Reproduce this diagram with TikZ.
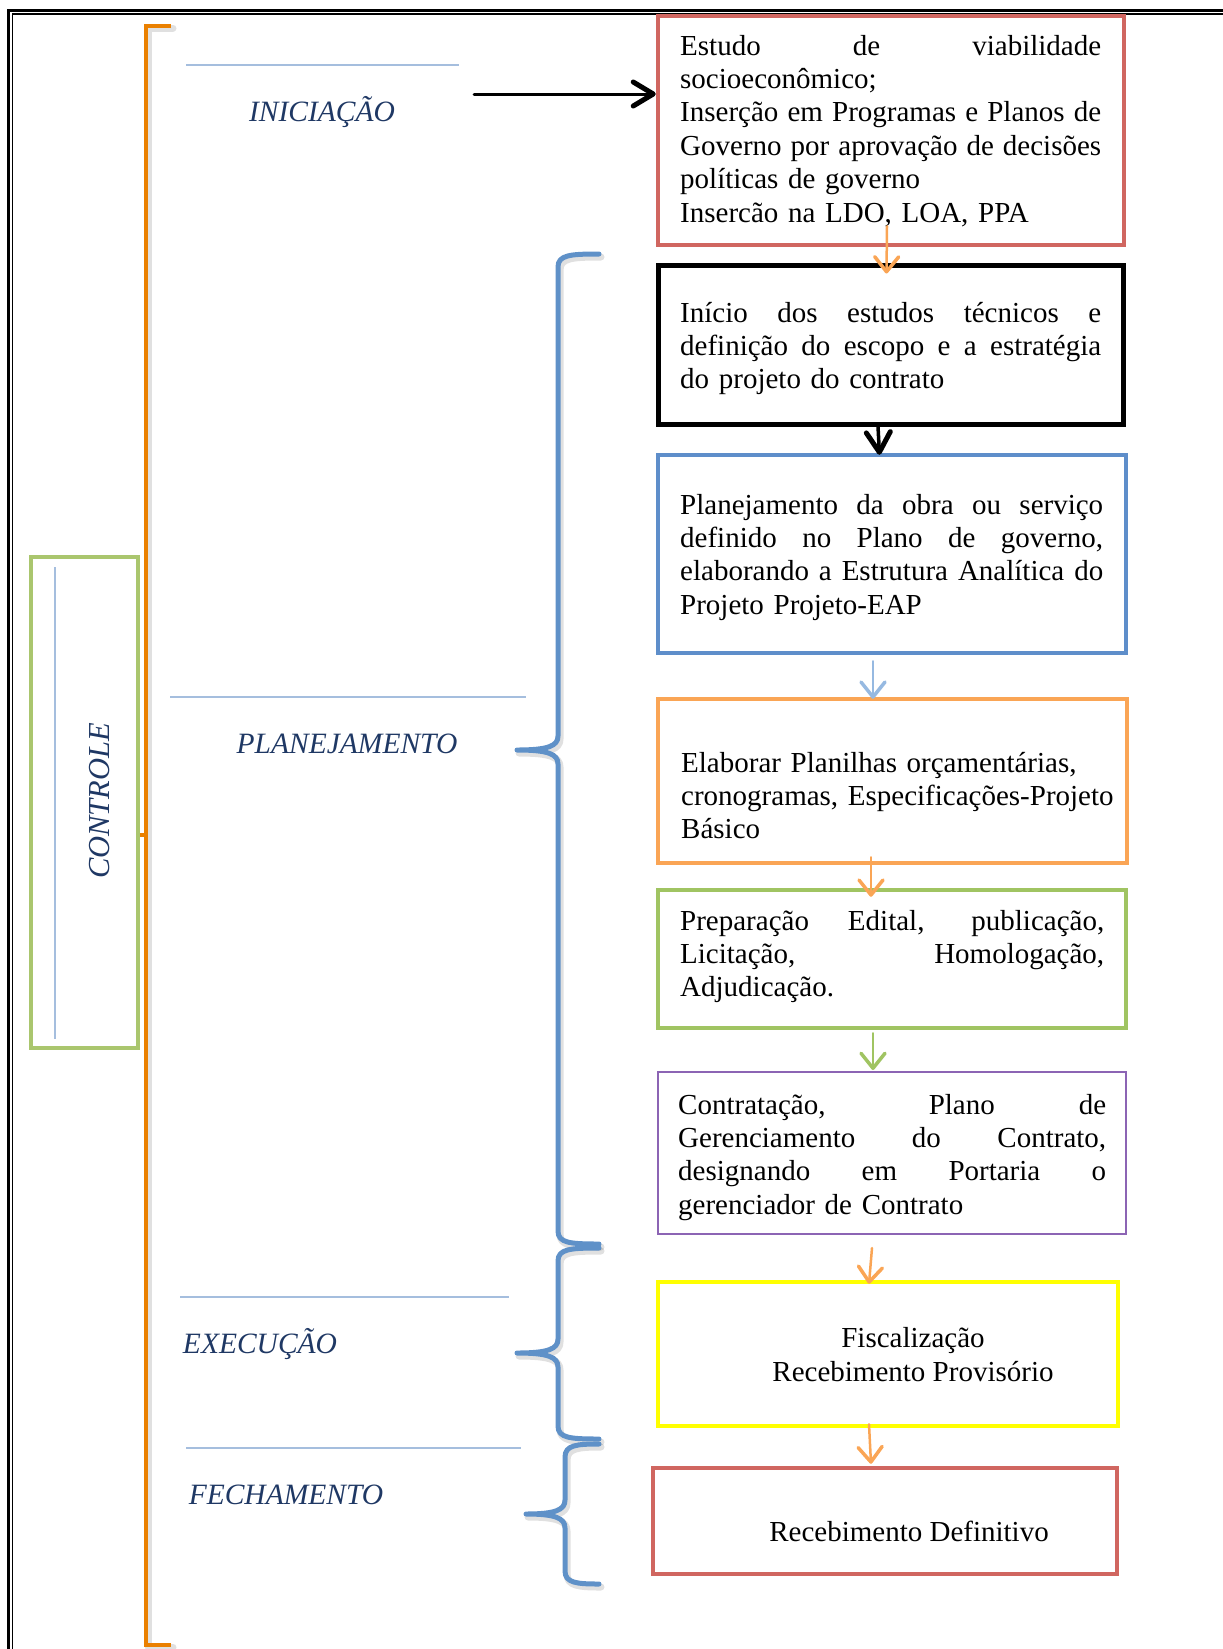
\documentclass[tikz,border=0pt]{standalone}
\usepackage{fontspec}
\setmainfont{Liberation Serif}
\usetikzlibrary{arrows.meta}

\definecolor{boxred}{RGB}{208,102,96}
\definecolor{boxblue}{RGB}{94,142,202}
\definecolor{boxorange}{RGB}{250,165,85}
\definecolor{boxgreen}{RGB}{160,196,98}
\definecolor{boxpurple}{RGB}{140,100,180}
\definecolor{boxyellow}{RGB}{255,255,0}
\definecolor{arrowblue}{RGB}{150,185,225}
\definecolor{rulecol}{RGB}{165,190,222}
\definecolor{labelcol}{RGB}{31,56,100}
\definecolor{bracketcol}{RGB}{234,128,0}
\definecolor{bracecol}{RGB}{95,145,200}
\definecolor{ctrlgreen}{RGB}{170,198,110}

% a justified line spanning the full text width (stretchable word spaces)
\newcommand{\J}[1]{\makebox[\hsize][s]{\spaceskip=0.25em plus 20em\xspaceskip=0.25em plus 20em\relax #1}}

% left brace: spine x, top y, middle y, bottom y, hook x, point x
\newcommand{\bracepath}[6]{%
  (#5,#2) .. controls (#1+12,#2) and (#1,#2+1) .. (#1,#2+13)
  -- (#1,#3-14) .. controls (#1,#3-4) and (#1-10,#3) .. (#6,#3)
  .. controls (#1-10,#3) and (#1,#3+4) .. (#1,#3+14)
  -- (#1,#4-13) .. controls (#1,#4-1) and (#1+12,#4) .. (#5,#4)}

\begin{document}
\begin{tikzpicture}[x=1pt,y=-1pt,
  box/.style={draw, line width=4.5pt, minimum width=#1, inner sep=0pt},
  txt/.style={inner sep=0pt, text width=#1, align=left,
    font=\fontsize{29}{33.4}\selectfont},
  ctxt/.style={inner sep=0pt, align=center,
    font=\fontsize{29}{33.4}\selectfont},
  lbl/.style={inner sep=0pt, text=labelcol,
    font=\fontsize{29.5}{34}\selectfont\itshape},
  rulestyle/.style={draw=rulecol, line width=2.5pt},
  flow/.style={line width=2.5pt, line cap=round,
    -{Straight Barb[length=15pt,width=24pt,line width=3.5pt,round]}},
  bigflow/.style={line width=3pt, line cap=round,
    -{Straight Barb[length=20pt,width=24pt,line width=5pt,round]}},
  bracestyle/.style={draw=bracecol, line width=5pt, line cap=round, line join=round},
  shade/.style={draw=black, opacity=0.12, line width=7pt, line cap=round, line join=round}
]
\useasboundingbox (0,0) rectangle (1223,1649);
\clip (0,0) rectangle (1223,1649);

% double page frame
\draw[line width=2.6pt] (8.7,1700) |- (1300,10.5);
\draw[line width=1.7pt] (12.5,1700) |- (1300,14.2);

% control bracket
\draw[shade] ([shift={(2,2)}]171,26) -- ([shift={(2,2)}]146,26) -- ([shift={(2,2)}]146,1645) -- ([shift={(2,2)}]171,1645);
\draw[draw=bracketcol, line width=4.5pt] (171,26) -- (146,26) -- (146,1645) -- (171,1645);
\coordinate (bk) at (146,835);

% control box
\node[draw=ctrlgreen, line width=4pt, minimum width=107pt, minimum height=491pt, inner sep=0pt] (ctrl) at (84.5,802.5) {};
\draw[draw=rulecol, line width=2pt] (55,567) -- (55,1039);
\node[lbl, rotate=90, font=\fontsize{30.5}{35}\selectfont\itshape] (ctrltxt) at (100,801) {CONTROLE};
\draw[draw=bracketcol, line width=4.5pt] ([yshift=-32.5pt]ctrl.east) -- (bk);

% phase labels with rules
\draw[rulestyle] (186,65) -- (459,65);
\node[lbl, anchor=base] (ini) at (322,121) {INICIAÇÃO};
\draw[rulestyle] (170,697) -- (526,697);
\node[lbl, anchor=base] (plan) at (347,753) {PLANEJAMENTO};
\draw[rulestyle] (180,1297) -- (509,1297);
\node[lbl, anchor=base] (exe) at (260,1353) {EXECUÇÃO};
\draw[rulestyle] (186,1448) -- (521,1448);
\node[lbl, anchor=base] (fech) at (286,1504) {FECHAMENTO};

% braces
\draw[shade] [shift={(2,3)}] \bracepath{558}{254}{750}{1244}{599}{517};
\draw[bracestyle] \bracepath{558}{254}{750}{1244}{599}{517};
\draw[shade] [shift={(2,3)}] \bracepath{558}{1248}{1353}{1439}{599}{517};
\draw[bracestyle] \bracepath{558}{1248}{1353}{1439}{599}{517};
\draw[shade] [shift={(2,3)}] \bracepath{565}{1444}{1514}{1584}{599}{526};
\draw[bracestyle] \bracepath{565}{1444}{1514}{1584}{599}{526};

% process boxes
\node[box=466pt, draw=boxred, minimum height=229pt] (r1) at (891,130.5) {};
\node[box=465pt, draw=black, line width=5pt, minimum height=159pt] (k2) at (890.5,344.5) {};
\node[box=468pt, draw=boxblue, minimum height=198pt] (b3) at (892,554) {};
\node[box=469pt, draw=boxorange, minimum height=164pt] (o4) at (892.5,781) {};
\node[box=468pt, draw=boxgreen, minimum height=138pt] (g5) at (892,959) {};
\node[box=468pt, draw=boxpurple, line width=2pt, minimum height=162pt] (p6) at (892,1153) {};
\node[box=460pt, draw=boxyellow, minimum height=144pt] (y7) at (888,1354) {};
\node[box=464pt, draw=boxred, minimum height=106pt] (r8) at (885,1521) {};

% box texts
\node[txt=421pt, anchor=base west] (t1) at (680,55) {\J{Estudo de viabilidade}\\socioeconômico;\\\J{Inserção em Programas e Planos de}\\\J{Governo por aprovação de decisões}\\políticas de governo\\Insercão na LDO, LOA, PPA};
\node[txt=421pt, anchor=base west] (t2) at (680,322) {\J{Início dos estudos técnicos e}\\\J{definição do escopo e a estratégia}\\do projeto do contrato};
\node[txt=423pt, anchor=base west] (t3) at (680,514) {\J{Planejamento da obra ou serviço}\\\J{definido no Plano de governo,}\\\J{elaborando a Estrutura Analítica do}\\Projeto Projeto-EAP};
\node[txt=440pt, anchor=base west] (t4) at (681,772) {Elaborar Planilhas orçamentárias,\\cronogramas, Especificações-Projeto\\Básico};
\node[txt=424pt, anchor=base west] (t5) at (680,930) {\J{Preparação Edital, publicação,}\\\J{Licitação, Homologação,}\\Adjudicação.};
\node[txt=428pt, anchor=base west] (t6) at (678,1114) {\J{Contratação, Plano de}\\\J{Gerenciamento do Contrato,}\\\J{designando em Portaria o}\\gerenciador de Contrato};
\node[ctxt, anchor=base] (t7) at (913,1381) {Fiscalização\\Recebimento Provisório};
\node[ctxt, anchor=base] (t8) at (909,1541) {Recebimento Definitivo};

% connectors
\coordinate (start) at (474,94);
\draw[bigflow] (start) -- (start -| r1.west);
\draw[flow, draw=boxorange] ([shift={(-4,-21)}]r1.south) -- ([shift={(-4,11)}]k2.north);
\draw[bigflow, line width=3.5pt] ([xshift=-12.5pt]k2.south) -- ([shift={(-12.5,2)}]b3.north);
\draw[flow, draw=arrowblue] ([shift={(-19,6)}]b3.south) -- ([shift={(-19.5,2)}]o4.north);
\draw[flow, draw=boxorange] ([shift={(-21.5,-8)}]o4.south) -- ([shift={(-21,9)}]g5.north);
\draw[flow, draw=boxgreen] ([shift={(-19,3)}]g5.south) -- ([shift={(-19,-1)}]p6.north);
\draw[flow, draw=boxorange] ([shift={(-20,13)}]p6.south) -- ([shift={(-19,4)}]y7.north);
\draw[flow, draw=boxorange] ([shift={(-19,-4)}]y7.south) -- ([shift={(-14,-2)}]r8.north);
\end{tikzpicture}
\end{document}
